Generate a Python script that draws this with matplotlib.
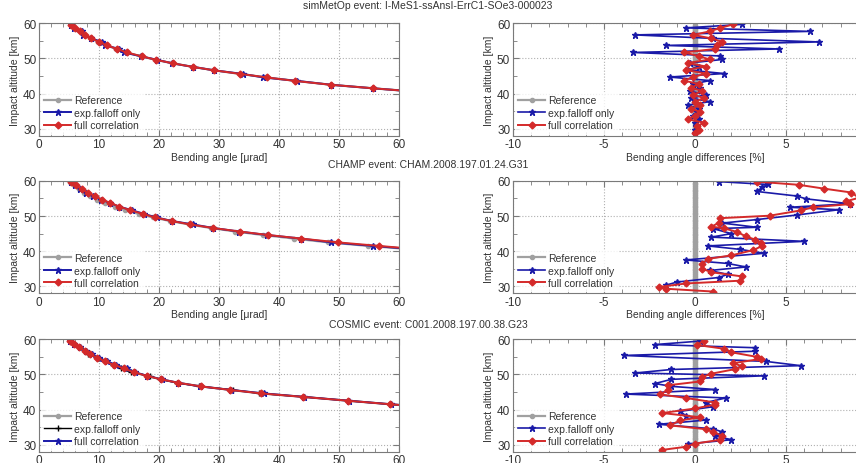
"""Bending angle profiles and relative differences for three RO events."""

import matplotlib.pyplot as plt
from matplotlib.ticker import AutoMinorLocator, FixedLocator, MultipleLocator

plt.rcParams["font.family"] = ["Liberation Sans", "DejaVu Sans"]
plt.rcParams["axes.unicode_minus"] = False

# ---- left column: bending angle profiles (altitude km, angle urad) ----
alt_prof = [59.6, 58.7, 57.7, 56.7, 55.7, 54.7, 53.7, 52.7, 51.7, 50.6,
            49.6, 48.6, 47.6, 46.6, 45.6, 44.6, 43.6, 42.5, 41.5, 40.5]

met_ref = [5.3, 5.9, 6.8, 7.6, 8.6, 9.9, 11.2, 12.9, 14.6, 17.0,
           19.4, 22.3, 25.6, 29.2, 33.4, 37.8, 42.8, 48.6, 55.6, 63.0]
met_exp = [5.4, 5.9, 7.2, 7.4, 8.7, 10.5, 11.0, 13.4, 14.1, 17.0,
           19.7, 22.2, 25.6, 29.2, 33.9, 37.3, 43.0, 48.6, 55.6, 63.0]
met_full = [5.4, 6.0, 6.8, 7.6, 8.7, 10.0, 11.3, 13.0, 14.6, 17.1,
            19.5, 22.3, 25.6, 29.2, 33.5, 37.9, 42.6, 48.6, 55.6, 63.0]

cham_ref = [5.2, 5.8, 6.6, 7.5, 8.5, 9.7, 11.0, 12.6, 14.3, 16.6,
            19.0, 21.8, 25.0, 28.6, 32.7, 37.3, 42.4, 48.2, 54.8, 62.3]
cham_exp = [5.3, 6.0, 6.8, 7.8, 9.0, 10.3, 11.9, 13.3, 15.4, 17.5,
            19.6, 22.1, 25.7, 29.0, 33.3, 38.0, 43.6, 48.7, 55.6, 62.8]
cham_full = [5.4, 6.1, 7.1, 8.1, 9.3, 10.5, 11.9, 13.4, 15.1, 17.3,
             19.3, 22.1, 25.2, 29.0, 33.4, 38.2, 43.6, 49.8, 56.6, 63.5]

cos_ref = [5.1, 5.8, 6.7, 7.6, 8.5, 9.7, 11.0, 12.5, 14.1, 15.8,
           17.9, 20.3, 23.2, 26.9, 31.8, 36.9, 44.0, 51.5, 58.5, 66.0]
cos_exp = [5.1, 5.7, 6.9, 7.8, 8.2, 10.0, 11.2, 12.4, 13.6, 15.3,
           18.4, 20.1, 23.0, 26.7, 32.3, 36.6, 44.2, 51.5, 58.5, 66.0]
cos_full = [5.1, 5.8, 6.8, 7.8, 8.8, 10.0, 11.4, 12.8, 14.6, 16.0,
            18.0, 20.4, 23.2, 26.8, 31.9, 37.4, 44.1, 51.6, 58.6, 66.0]

# ---- right column: bending angle differences [%] ----
met_alt = [59.7, 58.7, 57.7, 56.7, 55.7, 54.7, 53.7, 52.7, 51.7, 50.7,
           49.7, 48.7, 47.7, 46.7, 45.7, 44.7, 43.7, 42.7, 41.7, 40.7,
           39.7, 38.7, 37.7, 36.7, 35.7, 34.7, 33.7, 32.7, 31.7, 30.7,
           29.7, 28.7]
met_dexp = [2.6, -0.5, 6.3, -3.3, 1.0, 6.8, -1.6, 4.6, -3.4, 1.4,
            1.5, -0.3, 0.2, -0.4, 1.6, -1.4, 0.8, -0.1, 0.3, -0.3,
            0.6, -0.2, 0.8, -0.4, 0.2, 0.1, -0.1, 0.2, 0.0, 0.1,
            0.0, 0.0]
met_dfull = [2.1, 1.4, 0.8, -0.1, 0.9, 1.5, 1.2, 1.1, -0.6, 0.2,
             0.8, -0.4, 0.6, -0.5, 0.6, -0.1, -0.6, 0.2, -0.2, 0.4,
             -0.1, 0.5, 0.0, 0.3, -0.2, 0.3, 0.0, -0.4, 0.5, 0.1,
             0.2, 0.0]

cham_alt_exp = [59.8, 59.0, 58.2, 57.0, 55.7, 54.9, 53.5, 52.5, 51.8, 50.3,
                49.0, 48.0, 46.8, 46.4, 45.0, 44.0, 42.8, 41.5, 40.5, 39.4,
                37.5, 36.5, 35.5, 34.5, 33.4, 32.5, 31.2, 30.3]
cham_dexp = [1.3, 4.0, 3.7, 3.4, 5.6, 6.1, 8.5, 5.2, 7.9, 5.6,
             3.4, 1.5, 3.4, 1.0, 2.0, 0.9, 6.0, 0.7, 2.5, 3.8,
             -0.5, 1.8, 2.8, 0.8, 1.8, 1.3, -1.0, -1.6]
cham_alt_full = [59.8, 58.9, 57.8, 56.7, 55.2, 54.2, 53.4, 52.5, 51.6, 50.1,
                 49.4, 48.0, 47.0, 46.5, 45.5, 44.2, 43.3, 42.4, 41.5, 40.3,
                 38.8, 37.8, 36.3, 35.0, 34.0, 32.8, 31.6, 30.8, 29.8, 29.3,
                 28.5]
cham_dfull = [3.4, 5.7, 7.1, 8.6, 9.0, 8.3, 8.5, 6.5, 5.8, 4.1,
              1.4, 1.3, 0.9, 1.6, 2.3, 2.8, 3.3, 3.6, 3.7, 3.2,
              2.0, 0.7, 0.4, 0.4, 0.9, 2.6, 2.5, -0.5, -2.0, -1.6,
              1.0]

cos_alt_exp = [59.5, 58.5, 57.6, 56.6, 55.4, 53.7, 52.5, 51.4, 50.4, 49.6,
               48.6, 47.4, 46.6, 45.7, 44.4, 43.3, 42.0, 40.8, 39.5, 38.2,
               37.0, 35.8, 34.5, 33.6, 32.5, 31.4, 30.2]
cos_dexp = [0.3, -2.2, 3.3, 3.3, -3.9, 3.9, 5.8, -1.3, -3.3, 3.8,
            -1.3, -2.2, -1.3, 1.1, -3.8, 1.7, 0.6, 1.0, -0.8, -0.5,
            0.6, -2.0, 1.0, 1.5, 1.1, 2.0, -0.4]
cos_alt_full = [59.6, 58.4, 57.3, 56.3, 55.0, 54.4, 53.2, 52.3, 51.5, 50.2,
                49.3, 48.0, 46.9, 45.6, 44.3, 43.3, 42.0, 41.4, 40.3, 39.0,
                37.8, 36.9, 35.5, 34.4, 33.5, 32.6, 31.4, 30.3, 29.4, 28.5]
cos_dfull = [0.5, 0.1, 1.6, 2.0, 3.4, 3.6, 2.1, 2.6, 2.2, 0.9,
             0.4, 0.3, -1.5, -1.5, -1.9, -0.5, 1.1, 1.1, 0.0, -1.8,
             0.3, -0.8, -1.4, 0.6, 1.0, 1.5, 1.4, 0.0, -0.5, -1.8]

ref_alt = [59.5, 59.0, 58.5, 58.0, 57.5, 57.0, 56.5, 56.0, 55.5, 55.0,
           54.5, 54.0, 53.5, 53.0, 52.5, 52.0, 51.5, 51.0, 50.5, 50.0,
           49.5, 49.0, 48.5, 48.0, 47.5, 47.0, 46.5, 46.0, 45.5, 45.0,
           44.5, 44.0, 43.5, 43.0, 42.5, 42.0, 41.5, 41.0, 40.5, 40.0,
           39.5, 39.0, 38.5, 38.0, 37.5, 37.0, 36.5, 36.0, 35.5, 35.0,
           34.5, 34.0, 33.5, 33.0, 32.5, 32.0, 31.5, 31.0, 30.5, 30.0,
           29.5, 29.0, 28.5]
ref_diff = [0.0] * len(ref_alt)

diff_ticks = [-10, -5, 0, 5]

titles = ["simMetOp event: I-MeS1-ssAnsI-ErrC1-SOe3-000023",
          "CHAMP event: CHAM.2008.197.01.24.G31",
          "COSMIC event: C001.2008.197.00.38.G23"]
title_y = [6, 165, 325]

GRAY = "#a0a0a0"
BLUE = "#1a1aa8"
RED = "#d42a2a"
FRAME = "#7a7a7a"
TXT = "#333333"


def style_axes(ax):
    ax.set_ylim(28, 60)
    ax.yaxis.set_major_locator(MultipleLocator(10))
    ax.yaxis.set_minor_locator(AutoMinorLocator(2))
    ax.tick_params(which="both", direction="in", top=True, right=True,
                   colors=FRAME, labelcolor=TXT, labelsize=8.5, pad=2)
    ax.tick_params(which="major", length=4)
    ax.tick_params(which="minor", length=3)
    for sp in ax.spines.values():
        sp.set_color(FRAME)
        sp.set_linewidth(0.8)
    ax.grid(which="major", linestyle=":", color="#b0b0b0", linewidth=0.8)
    ax.set_ylabel("Impact altitude [km]", fontsize=7.5, color=TXT, labelpad=2)


def add_legend(ax, handles):
    leg = ax.legend(handles=handles, loc="lower left", fontsize=7.5,
                    handlelength=2.6, handletextpad=0.3, labelspacing=0.25,
                    borderaxespad=0.2, borderpad=0.3, frameon=True, fancybox=False)
    leg.get_frame().set_facecolor("white")
    leg.get_frame().set_edgecolor("white")
    for t in leg.get_texts():
        t.set_color(TXT)


fig = plt.figure(figsize=(8.56, 4.64), dpi=100)

bottoms = [0.7054, 0.3657, 0.0244]
height = 0.2422

profiles = [(met_ref, met_exp, met_full),
            (cham_ref, cham_exp, cham_full),
            (cos_ref, cos_exp, cos_full)]
diffs = [(met_alt, met_dexp, met_alt, met_dfull),
         (cham_alt_exp, cham_dexp, cham_alt_full, cham_dfull),
         (cos_alt_exp, cos_dexp, cos_alt_full, cos_dfull)]

for row in range(3):
    b = bottoms[row]
    ref, exp, full = profiles[row]

    # left: profiles
    axl = fig.add_axes([0.0456, b, 0.4209, height])
    h_ref, = axl.plot(ref, alt_prof, color=GRAY, lw=1.6, marker="o", ms=3,
                      mfc=GRAY, mec=GRAY, label="Reference")
    if row < 2:
        h_exp, = axl.plot(exp, alt_prof, color=BLUE, lw=1.4, marker="*", ms=5,
                          label="exp.falloff only")
        h_full, = axl.plot(full, alt_prof, color=RED, lw=1.4, marker="D", ms=3.5,
                           label="full correlation")
    else:
        h_exp, = axl.plot(exp, alt_prof, color="black", lw=1.0, marker="+", ms=4,
                          label="exp.falloff only")
        h_full, = axl.plot(full, alt_prof, color=BLUE, lw=1.4, marker="*", ms=5,
                           label="full correlation")
        axl.plot(ref, alt_prof, color=RED, lw=1.4, marker="D", ms=3.5)
    axl.set_xlim(0, 60)
    axl.xaxis.set_major_locator(MultipleLocator(10))
    axl.xaxis.set_minor_locator(AutoMinorLocator(5))
    style_axes(axl)
    axl.set_xlabel("Bending angle [\u03bcrad]", fontsize=7.5, color=TXT, labelpad=1)
    add_legend(axl, [h_ref, h_exp, h_full])

    # right: differences (axes run past the figure's right edge)
    ae, de, af, df = diffs[row]
    axr = fig.add_axes([0.5993, b, 0.4252, height])
    r_ref, = axr.plot(ref_diff, ref_alt, color=GRAY, lw=1.6, marker="o", ms=3,
                      mfc=GRAY, mec=GRAY, label="Reference")
    r_exp, = axr.plot(de, ae, color=BLUE, lw=1.2, marker="*", ms=5,
                      label="exp.falloff only")
    r_full, = axr.plot(df, af, color=RED, lw=1.4, marker="D", ms=3.5,
                       label="full correlation")
    axr.set_xlim(-10, 10)
    axr.xaxis.set_major_locator(FixedLocator(diff_ticks))
    axr.xaxis.set_minor_locator(MultipleLocator(1))
    style_axes(axr)
    axr.set_xlabel("Bending angle differences [%]", fontsize=7.5, color=TXT, labelpad=1)
    add_legend(axr, [r_ref, r_exp, r_full])

    fig.text(0.5, 1 - title_y[row] / 464, titles[row],
             ha="center", va="center", fontsize=7.5, color=TXT)

fig.savefig("out.png", dpi=100)
